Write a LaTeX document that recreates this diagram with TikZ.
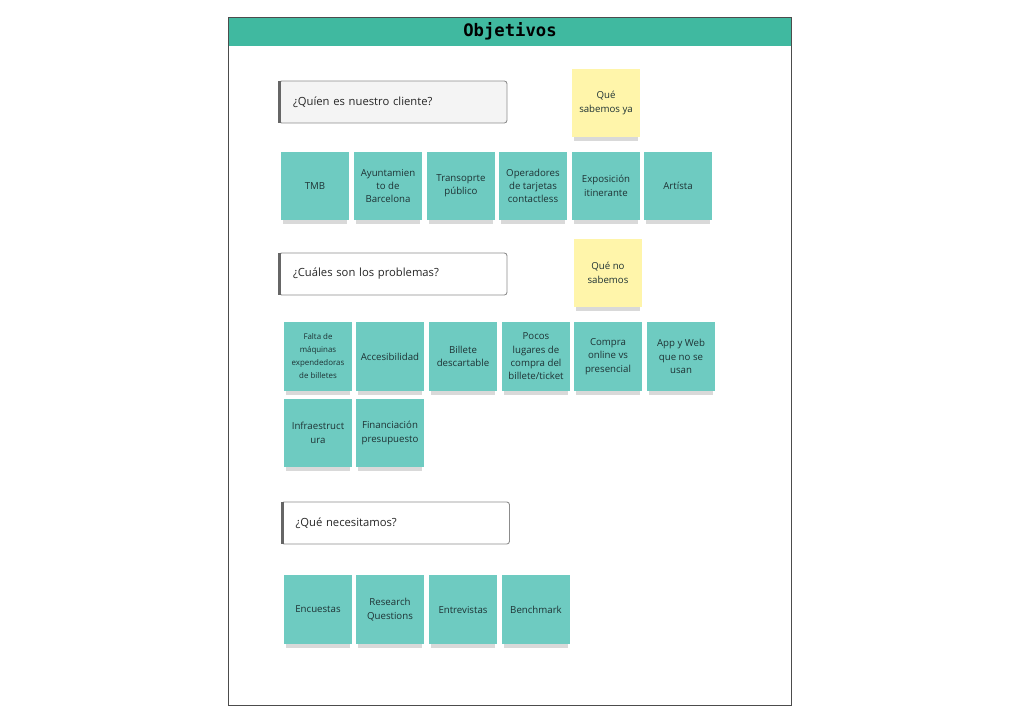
\documentclass[tikz,border=0pt]{standalone}
\usepackage{fontspec}
\setmainfont{Open Sans}
\newfontfamily\titlefont{DejaVu Sans Mono}
\usetikzlibrary{shadows}
\definecolor{headteal}{RGB}{64,185,160}
\definecolor{noteteal}{RGB}{110,203,193}
\definecolor{noteyellow}{RGB}{255,245,170}
\definecolor{notetext}{RGB}{30,50,52}
\definecolor{qfill}{RGB}{244,244,244}
\begin{document}
\begin{tikzpicture}[x=0.02cm,y=-0.02cm,
  note/.style={rectangle,fill=noteteal,minimum width=1.36cm,minimum height=1.38cm,
    inner sep=1pt,align=center,text=notetext,
    font=\fontsize{5.5}{7.6}\selectfont,
    drop shadow={shadow xshift=0pt,shadow yshift=-3.6pt,shadow scale=0.94,opacity=.3}},
  yellownote/.style={note,fill=noteyellow},
  smallnote/.style={note,font=\fontsize{4.5}{7.4}\selectfont},
  question/.style={rectangle,draw=black!45,rounded corners=1.5pt,line width=0.5pt,
    minimum width=4.56cm,minimum height=0.84cm,text width=4.0cm,align=left,
    inner xsep=0.28cm,text=black!85,font=\fontsize{6.4}{8}\selectfont},
  qbar/.style={line width=1.6pt,draw=black!60}]
\useasboundingbox (0,0) rectangle (1024,723);
% frame and header
\fill[headteal] (228,17) rectangle (791,46);
\draw[black!70,line width=0.5pt] (228,17) rectangle (791,705);
\node (title) at (510,31.5) {\titlefont\bfseries\fontsize{9.8}{11}\selectfont Objetivos};

% who is the client
\node[question,fill=qfill] (qcliente) at (393,102) {¿Quíen es nuestro cliente?};
\draw[qbar] ([xshift=0.6pt]qcliente.north west) -- ([xshift=0.6pt]qcliente.south west);
\node[yellownote] (sabemos) at (606,103) {Qué\\sabemos ya};
\node[note] (tmb) at (315,186) {TMB};
\node[note] (ayunt) at (388,186) {Ayuntamien\\to de\\Barcelona};
\node[note] (transp) at (461,186) {Transoprte\\público};
\node[note] (operad) at (533,186) {Operadores\\de tarjetas\\contactless};
\node[note] (expos) at (606,186) {Exposición\\itinerante};
\node[note] (artista) at (678,186) {Artísta};

% problems
\node[question,fill=white] (qproblemas) at (393,274) {¿Cuáles son los problemas?};
\draw[qbar] ([xshift=0.6pt]qproblemas.north west) -- ([xshift=0.6pt]qproblemas.south west);
\node[yellownote] (nosabemos) at (608,273) {Qué no\\sabemos};
\node[smallnote] (maquinas) at (318,356.5) {Falta de\\máquinas\\expendedoras\\de billetes};
\node[note] (acces) at (390,356.5) {Accesibilidad};
\node[note] (billete) at (463,356.5) {Billete\\descartable};
\node[note] (lugares) at (536,356.5) {Pocos\\lugares de\\compra del\\billete/ticket};
\node[note] (compra) at (608,356.5) {Compra\\online vs\\presencial};
\node[note] (appweb) at (681,356.5) {App y Web\\que no se\\usan};
\node[note] (infra) at (318,433) {Infraestruct\\ura};
\node[note] (financ) at (390,433) {Financiación\\presupuesto};

% what we need
\node[question,fill=white] (qnecesit) at (395.5,523) {¿Qué necesitamos?};
\draw[qbar] ([xshift=0.6pt]qnecesit.north west) -- ([xshift=0.6pt]qnecesit.south west);
\node[note] (encuestas) at (318,609.5) {Encuestas};
\node[note] (research) at (390,609.5) {Research\\Questions};
\node[note] (entrev) at (463,609.5) {Entrevistas};
\node[note] (bench) at (536,609.5) {Benchmark};
\end{tikzpicture}
\end{document}
